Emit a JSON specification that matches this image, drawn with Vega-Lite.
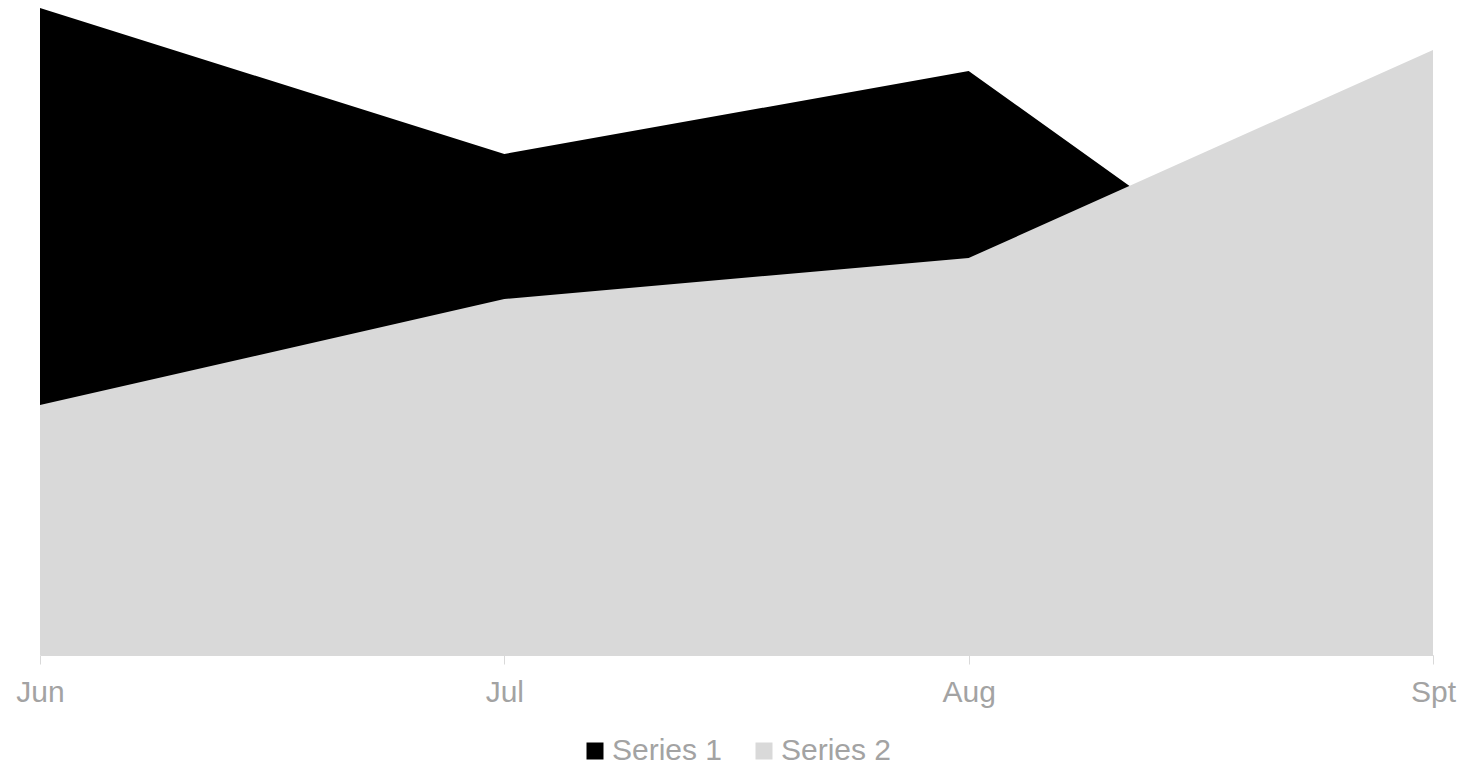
{
  "$schema": "https://vega.github.io/schema/vega-lite/v6.json",
  "width": 1393,
  "height": 647,
  "autosize": {"type": "none"},
  "padding": {"left": 40, "top": 8, "right": 49, "bottom": 112},
  "background": "white",
  "config": {
    "view": {"stroke": null},
    "font": "Liberation Sans"
  },
  "data": {
    "values": [
      {"month": "Jun", "series": "Series 1", "value": 64.7},
      {"month": "Jul", "series": "Series 1", "value": 50.1},
      {"month": "Aug", "series": "Series 1", "value": 58.4},
      {"month": "Spt", "series": "Series 1", "value": 25.2},
      {"month": "Jun", "series": "Series 2", "value": 25.0},
      {"month": "Jul", "series": "Series 2", "value": 35.6},
      {"month": "Aug", "series": "Series 2", "value": 39.7},
      {"month": "Spt", "series": "Series 2", "value": 60.5}
    ]
  },
  "mark": {"type": "area", "opacity": 1},
  "encoding": {
    "x": {
      "field": "month",
      "type": "ordinal",
      "sort": ["Jun", "Jul", "Aug", "Spt"],
      "scale": {"type": "point", "padding": 0},
      "axis": {
        "title": null,
        "labelAngle": 0,
        "labelFontSize": 30,
        "labelColor": "#a3a3a3",
        "labelPadding": 13,
        "tickSize": 9,
        "tickColor": "#d9d9d9",
        "domainColor": "#d9d9d9",
        "grid": false
      }
    },
    "y": {
      "field": "value",
      "type": "quantitative",
      "stack": null,
      "scale": {"domain": [0, 64.7], "nice": false, "zero": true},
      "axis": null
    },
    "color": {
      "field": "series",
      "type": "nominal",
      "scale": {"domain": ["Series 1", "Series 2"], "range": ["#000000", "#d9d9d9"]},
      "legend": {
        "title": null,
        "orient": "none",
        "direction": "horizontal",
        "legendX": 540,
        "legendY": 728,
        "symbolType": "square",
        "symbolSize": 289,
        "symbolStrokeWidth": 0,
        "symbolOpacity": 1,
        "labelFontSize": 30,
        "labelColor": "#a3a3a3",
        "labelOffset": 2,
        "columnPadding": 26
      }
    },
    "order": {"field": "series"}
  }
}
